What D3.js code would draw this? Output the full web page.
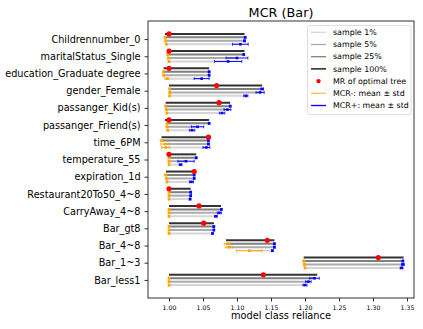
<!DOCTYPE html>
<html>
<head>
<meta charset="utf-8">
<script src="https://cdn.jsdelivr.net/npm/d3@7"></script>
<style>
  body { margin: 0; background: #fff; }
  text { font-family: "DejaVu Sans", sans-serif; }
</style>
</head>
<body>
<div id="chart"></div>
<script>
// ******** data

var features = ["Childrennumber_0", "maritalStatus_Single", "education_Graduate degree",
  "gender_Female", "passanger_Kid(s)", "passanger_Friend(s)", "time_6PM", "temperature_55",
  "expiration_1d", "Restaurant20To50_4~8", "CarryAway_4~8", "Bar_gt8", "Bar_4~8", "Bar_1~3", "Bar_less1"]

// MR of optimal tree
var optimalMR = [1.000, 1.000, 1.000, 1.070, 1.0735, 1.000, 1.058, 1.000, 1.037, 1.000, 1.044, 1.051, 1.1446, 1.3078, 1.1387]

// sample 100% : MCR- / MCR+
var full_lo = [0.994, 0.9975, 0.992, 1.000, 0.995, 0.994, 0.989, 0.9995, 0.9955, 0.999, 1.000, 1.000, 1.0838, 1.198, 1.000]
var full_hi = [1.111, 1.111, 1.059, 1.137, 1.090, 1.059, 1.058, 1.040, 1.037, 1.032, 1.0765, 1.066, 1.155, 1.345, 1.218]

// sample 25%
var s25_lo    = [0.994, 0.998, 0.992, 1.001, 0.995, 0.997, 0.989, 1.000, 0.995, 1.000, 1.000, 1.000, 1.0857, 1.198, 1.000]
var s25_loStd = [0.001, 0.001, 0.001, 0.001, 0.001, 0.001, 0.002, 0.001, 0.002, 0.001, 0.001, 0.001, 0.0045, 0.001, 0.001]
var s25_hi    = [1.112, 1.110, 1.059, 1.137, 1.090, 1.059, 1.058, 1.040, 1.037, 1.032, 1.077, 1.066, 1.155, 1.344, 1.214]
var s25_hiStd = [0.001, 0.001, 0.001, 0.002, 0.001, 0.001, 0.001, 0.001, 0.001, 0.001, 0.001, 0.001, 0.001, 0.001, 0.007]

// sample 5%
var s5_lo    = [0.995, 0.999, 0.992, 1.001, 0.996, 0.997, 0.994, 1.000, 0.996, 1.000, 1.000, 1.000, 1.088, 1.199, 1.000]
var s5_loStd = [0.001, 0.001, 0.001, 0.001, 0.001, 0.001, 0.006, 0.001, 0.001, 0.001, 0.001, 0.001, 0.005, 0.001, 0.001]
var s5_hi    = [1.111, 1.100, 1.059, 1.134, 1.086, 1.042, 1.058, 1.025, 1.037, 1.032, 1.074, 1.066, 1.155, 1.344, 1.205]
var s5_hiStd = [0.001, 0.016, 0.001, 0.006, 0.005, 0.009, 0.001, 0.012, 0.001, 0.001, 0.003, 0.001, 0.001, 0.002, 0.004]

// sample 1%
var s1_lo    = [0.996, 1.000, 0.997, 1.001, 0.997, 0.998, 0.995, 1.000, 0.997, 1.000, 1.000, 1.000, 1.118, 1.200, 1.000]
var s1_loStd = [0.001, 0.001, 0.003, 0.001, 0.001, 0.001, 0.006, 0.001, 0.001, 0.001, 0.001, 0.001, 0.019, 0.001, 0.001]
var s1_hi    = [1.105, 1.087, 1.048, 1.113, 1.078, 1.034, 1.055, 1.017, 1.033, 1.031, 1.069, 1.064, 1.152, 1.342, 1.200]
var s1_hiStd = [0.0115, 0.020, 0.011, 0.003, 0.004, 0.004, 0.005, 0.002, 0.003, 0.001, 0.002, 0.001, 0.001, 0.002, 0.003]

var xTicks = [1.00, 1.05, 1.10, 1.15, 1.20, 1.25, 1.30, 1.35]

// ******** layout
var width = 423
height = 329
margin = {top: 21, right: 9, bottom: 31, left: 148}

var svg = d3.select("#chart")
  .append("svg")
    .attr("width", width)
    .attr("height", height)

var x = d3.scaleLinear()
  .domain([0.9691, 1.3603])
  .range([margin.left, width - margin.right])

var y = d3.scalePoint()
  .domain(features)
  .range([margin.top, height - margin.bottom])
  .padding(1.05)

var rowStep = y.step()

// one entry for each grey/black line, top to bottom in a row
var samples = [
  {name: "sample 100%", color: "#000000", off: -0.3, lo: full_lo, hi: full_hi, bars: false},
  {name: "sample 25%", color: "#808080", off: -0.1, lo: s25_lo, loStd: s25_loStd, hi: s25_hi, hiStd: s25_hiStd, bars: true},
  {name: "sample 5%", color: "#ababab", off: 0.1, lo: s5_lo, loStd: s5_loStd, hi: s5_hi, hiStd: s5_hiStd, bars: true},
  {name: "sample 1%", color: "#d6d6d6", off: 0.3, lo: s1_lo, loStd: s1_loStd, hi: s1_hi, hiStd: s1_hiStd, bars: true}
]

var plot = svg.append("g")

samples.forEach(function(s) {
  var g = plot.append("g")
  g.selectAll("line")
    .data(features)
    .enter()
    .append("line")
      .attr("x1", function(d, i) { return x(s.lo[i]) })
      .attr("x2", function(d, i) { return x(s.hi[i]) })
      .attr("y1", function(d) { return y(d) + s.off * rowStep })
      .attr("y2", function(d) { return y(d) + s.off * rowStep })
      .attr("stroke", s.color)
      .attr("stroke-width", 2)
      .attr("opacity", s.bars ? 1 : 0.8)
})

// error bars: MCR- orange, MCR+ blue
function errorBars(s, mean, std, color) {
  var g = plot.append("g")
  var yy = function(d) { return y(d) + s.off * rowStep }
  g.selectAll(".eb")
    .data(features)
    .enter()
    .append("line")
      .attr("x1", function(d, i) { return x(mean[i] - std[i]) })
      .attr("x2", function(d, i) { return x(mean[i] + std[i]) })
      .attr("y1", yy)
      .attr("y2", yy)
      .attr("stroke", color)
      .attr("stroke-width", 1)
  ;[-1, 1].forEach(function(sign) {
    g.selectAll(".cap" + sign)
      .data(features)
      .enter()
      .append("line")
        .attr("x1", function(d, i) { return x(mean[i] + sign * std[i]) })
        .attr("x2", function(d, i) { return x(mean[i] + sign * std[i]) })
        .attr("y1", function(d) { return yy(d) - 1.5 })
        .attr("y2", function(d) { return yy(d) + 1.5 })
        .attr("stroke", color)
        .attr("stroke-width", 0.8)
  })
  g.selectAll("rect")
    .data(features)
    .enter()
    .append("rect")
      .attr("x", function(d, i) { return x(mean[i]) - 1.3 })
      .attr("y", function(d) { return yy(d) - 1.3 })
      .attr("width", 2.6)
      .attr("height", 2.6)
      .attr("fill", color)
}

samples.filter(function(s) { return s.bars }).forEach(function(s) {
  errorBars(s, s.lo, s.loStd, "orange")
  errorBars(s, s.hi, s.hiStd, "blue")
})

// red dots for MR of optimal tree
plot.append("g")
  .selectAll("circle")
  .data(features)
  .enter()
  .append("circle")
    .attr("cx", function(d, i) { return x(optimalMR[i]) })
    .attr("cy", function(d) { return y(d) - 0.3 * rowStep })
    .attr("r", 2.6)
    .attr("fill", "red")

// ******** axes
var xAxis = svg.append("g")
  .attr("transform", "translate(0," + (height - margin.bottom) + ")")
  .call(d3.axisBottom(x).tickValues(xTicks).tickFormat(d3.format(".2f")).tickSize(3.5).tickSizeOuter(0))
xAxis.select(".domain").remove()
xAxis.selectAll("text").attr("font-size", 6.2).attr("font-family", "DejaVu Sans").attr("fill", "#000").attr("dy", "0.9em")
xAxis.selectAll("line").attr("stroke-width", 0.8)

var yAxis = svg.append("g")
  .attr("transform", "translate(" + margin.left + ",0)")
  .call(d3.axisLeft(y).tickSize(3.5).tickSizeOuter(0))
yAxis.select(".domain").remove()
yAxis.selectAll("text").attr("font-size", 9.7).attr("font-family", "DejaVu Sans").attr("fill", "#000").attr("dx", "-0.1em")
yAxis.selectAll("line").attr("stroke-width", 0.8)

// frame
svg.append("rect")
  .attr("x", margin.left)
  .attr("y", margin.top)
  .attr("width", width - margin.right - margin.left)
  .attr("height", height - margin.bottom - margin.top)
  .attr("fill", "none")
  .attr("stroke", "#000")
  .attr("stroke-width", 0.8)

svg.append("text")
  .attr("x", (margin.left + width - margin.right) / 2)
  .attr("y", 17)
  .attr("text-anchor", "middle")
  .attr("font-size", 12.8)
  .text("MCR (Bar)")

svg.append("text")
  .attr("x", (margin.left + width - margin.right) / 2)
  .attr("y", 319)
  .attr("text-anchor", "middle")
  .attr("font-size", 9.8)
  .text("model class reliance")

// ******** legend
var legendItems = [
  {label: "sample 1%", color: "#d6d6d6", type: "line"},
  {label: "sample 5%", color: "#ababab", type: "line"},
  {label: "sample 25%", color: "#808080", type: "line"},
  {label: "sample 100%", color: "#000000", type: "line"},
  {label: "MR of optimal tree", color: "red", type: "dot"},
  {label: "MCR-: mean \u00b1 std", color: "#ffc04a", type: "line"},
  {label: "MCR+: mean \u00b1 std", color: "blue", type: "line"}
]

var legend = svg.append("g")
legend.append("rect")
  .attr("x", 307.5)
  .attr("y", 25.5)
  .attr("width", 103.5)
  .attr("height", 89)
  .attr("rx", 2)
  .attr("fill", "#fff")
  .attr("stroke", "#d5d5d5")
  .attr("stroke-width", 0.8)

var li = legend.selectAll(".item")
  .data(legendItems)
  .enter()
  .append("g")
    .attr("transform", function(d, i) { return "translate(0," + (32.3 + i * 12.2) + ")" })

li.filter(function(d) { return d.type == "line" })
  .append("line")
    .attr("x1", 311)
    .attr("x2", 326)
    .attr("stroke", function(d) { return d.color })
    .attr("stroke-width", 1.3)

li.filter(function(d) { return d.type == "dot" })
  .append("circle")
    .attr("cx", 318.5)
    .attr("r", 2.2)
    .attr("fill", "red")

li.append("text")
  .attr("x", 333)
  .attr("dy", "0.35em")
  .attr("font-size", 7.9)
  .text(function(d) { return d.label })
</script>
</body>
</html>
